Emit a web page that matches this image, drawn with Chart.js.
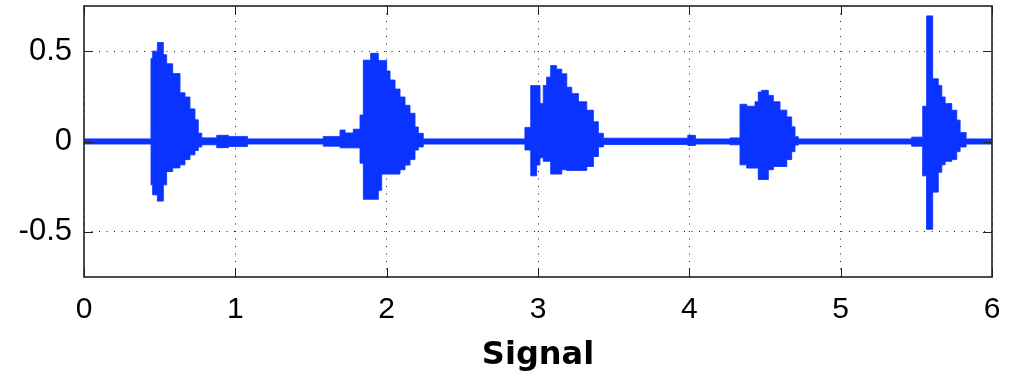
<!DOCTYPE html>
<html>
<head>
<meta charset="utf-8">
<title>Signal</title>
<script src="https://cdn.jsdelivr.net/npm/chart.js@4.4.1/dist/chart.umd.min.js"></script>
<style>
  html, body { margin: 0; padding: 0; background: #fff; }
  #wrap { width: 1017px; height: 382px; position: relative; }
</style>
</head>
<body>
<div id="wrap"><canvas id="signalChart"></canvas></div>
<script>
// envelope of the waveform (step breakpoints, seconds)
const envTime = [
  0, 0.443, 0.454, 0.485, 0.524, 0.546, 0.586, 0.634, 0.667, 0.700, 0.733, 0.755, 0.778, 0.877, 0.954, 1.08,
  1.581, 1.692, 1.725, 1.780, 1.824, 1.846, 1.894, 1.945, 1.967, 2.000, 2.022, 2.055, 2.088, 2.121, 2.154, 2.187, 2.209, 2.242,
  2.914, 2.952, 2.991, 3.013, 3.035, 3.057, 3.084, 3.123, 3.157, 3.190, 3.223, 3.267, 3.322, 3.366, 3.399, 3.432,
  3.99, 4.04,
  4.269, 4.335, 4.379, 4.434, 4.456, 4.478, 4.522, 4.555, 4.599, 4.644, 4.676, 4.698, 4.720,
  5.469, 5.542, 5.568, 5.608, 5.645, 5.668, 5.690, 5.734, 5.767, 5.789, 5.829, 6.0
];
const envUpper = [
  0.014, 0.46, 0.50, 0.548, 0.48, 0.43, 0.376, 0.27, 0.246, 0.18, 0.12, 0.046, 0.02, 0.034, 0.028, 0.014,
  0.028, 0.063, 0.047, 0.068, 0.146, 0.45, 0.488, 0.448, 0.448, 0.39, 0.34, 0.29, 0.246, 0.2, 0.156, 0.08, 0.045, 0.014,
  0.078, 0.31, 0.31, 0.21, 0.31, 0.356, 0.42, 0.40, 0.375, 0.30, 0.265, 0.22, 0.173, 0.109, 0.045, 0.018,
  0.034, 0.014,
  0.02, 0.206, 0.195, 0.22, 0.274, 0.283, 0.255, 0.22, 0.173, 0.136, 0.081, 0.026, 0.014,
  0.024, 0.195, 0.695, 0.347, 0.31, 0.246, 0.21, 0.173, 0.118, 0.05, 0.014, 0.014
];
const envLower = [
  -0.014, -0.24, -0.295, -0.33, -0.24, -0.166, -0.146, -0.129, -0.10, -0.074, -0.05, -0.03, -0.018, -0.034, -0.028, -0.014,
  -0.026, -0.035, -0.035, -0.035, -0.12, -0.32, -0.32, -0.27, -0.18, -0.18, -0.18, -0.18, -0.156, -0.13, -0.1, -0.047, -0.03, -0.014,
  -0.047, -0.19, -0.13, -0.09, -0.11, -0.11, -0.18, -0.18, -0.156, -0.16, -0.16, -0.16, -0.138, -0.083, -0.03, -0.016,
  -0.022, -0.014,
  -0.018, -0.129, -0.147, -0.147, -0.21, -0.21, -0.156, -0.138, -0.138, -0.10, -0.056, -0.02, -0.014,
  -0.026, -0.19, -0.486, -0.28, -0.17, -0.129, -0.11, -0.10, -0.056, -0.03, -0.014, -0.014
];

// axes
const xTicks = [0, 1, 2, 3, 4, 5, 6];
const yTicks = [-0.5, 0, 0.5];
const xTitle = 'Signal';

const blue = '#0a33ff';

// pontos de canto do degrau (cada valor vale até o próximo breakpoint)
function stepPoints(vals) {
  const pts = [];
  envTime.forEach((t, i) => {
    if (i > 0) pts.push({ x: t, y: vals[i - 1] });
    pts.push({ x: t, y: vals[i] });
  });
  return pts;
}

// contorno fechado: envelope de cima indo, envelope de baixo voltando
const outline = stepPoints(envUpper).concat(stepPoints(envLower).reverse());

// caixa do eixo + marcas de tick para dentro (estilo MATLAB)
const boxPlugin = {
  id: 'box',
  afterDraw(chart) {
    const { ctx, chartArea: a, scales } = chart;
    ctx.save();
    ctx.strokeStyle = '#222';
    ctx.lineWidth = 1;
    const tl = 9;
    xTicks.forEach(v => {
      const px = Math.round(scales.x.getPixelForValue(v)) + 0.5;
      ctx.beginPath();
      ctx.moveTo(px, a.bottom); ctx.lineTo(px, a.bottom - tl);
      ctx.moveTo(px, a.top); ctx.lineTo(px, a.top + tl);
      ctx.stroke();
    });
    yTicks.forEach(v => {
      const py = Math.round(scales.y.getPixelForValue(v)) + 0.5;
      ctx.beginPath();
      ctx.moveTo(a.left, py); ctx.lineTo(a.left + tl, py);
      ctx.moveTo(a.right, py); ctx.lineTo(a.right - tl, py);
      ctx.stroke();
    });
    ctx.lineWidth = 1.6;
    ctx.strokeRect(a.left, a.top, a.right - a.left, a.bottom - a.top);
    ctx.restore();
  }
};

document.addEventListener('DOMContentLoaded', () => {
  if (typeof Chart === 'undefined') return;

  Chart.defaults.font.family = "'Liberation Sans', Arial, sans-serif";
  Chart.defaults.color = '#000';

  new Chart(document.getElementById('signalChart'), {
    type: 'line',
    data: {
      datasets: [
        {
          data: outline,
          borderColor: blue,
          backgroundColor: blue,
          borderWidth: 1,
          borderDash: [1, 0], // desliga o "fast path" que junta pontos por coluna
          pointRadius: 0,
          tension: 0,
          fill: 'shape'
        }
      ]
    },
    options: {
      responsive: true,
      maintainAspectRatio: false,
      animation: false,
      layout: { padding: { top: 6, right: 25, bottom: 0, left: 0 } },
      plugins: { legend: { display: false }, tooltip: { enabled: false } },
      scales: {
        x: {
          type: 'linear',
          min: 0,
          max: 6,
          afterBuildTicks: s => { s.ticks = xTicks.map(v => ({ value: v })); },
          afterFit: s => { s.height = 105; s.paddingLeft = 0; s.paddingRight = 0; },
          ticks: { padding: 15, font: { size: 30 }, color: '#000' },
          grid: { color: '#222', lineWidth: 1, drawTicks: false },
          border: { display: false, dash: [1, 6.5] },
          title: {
            display: true,
            text: xTitle,
            color: '#000',
            font: { family: "'DejaVu Sans', sans-serif", size: 32, weight: 'bold' },
            padding: { top: 0, bottom: 7 }
          }
        },
        y: {
          min: -0.75,
          max: 0.75,
          afterBuildTicks: s => { s.ticks = yTicks.map(v => ({ value: v })); },
          afterFit: s => { s.width = 84; s.paddingTop = 0; s.paddingBottom = 0; },
          ticks: { padding: 12, font: { size: 31 }, color: '#000' },
          grid: { color: '#222', lineWidth: 1, drawTicks: false },
          border: { display: false, dash: [1, 6.5] }
        }
      }
    },
    plugins: [boxPlugin]
  });
});
</script>
</body>
</html>
